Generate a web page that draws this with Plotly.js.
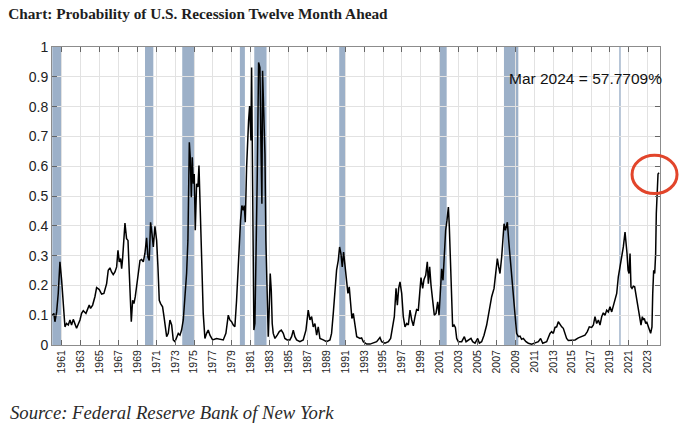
<!DOCTYPE html>
<html>
<head>
<meta charset="utf-8">
<script src="https://cdn.plot.ly/plotly-3.0.1.min.js"></script>
<style>
  html, body { margin: 0; padding: 0; background: #ffffff; }
  #chart { width: 680px; height: 428px; }
</style>
</head>
<body>
<div id="chart"></div>
<script>
// ---- Data ----
const years = [
  1960.00,1960.17,1960.28,1960.46,1960.63,1960.81,1960.99,1961.16,1961.34,1961.51,1961.69,1961.87,
  1962.04,1962.22,1962.40,1962.57,1962.93,1963.10,1963.28,1963.56,1963.70,1963.91,1964.05,1964.27,
  1964.51,1964.69,1964.97,1965.22,1965.46,1965.75,1965.92,1966.10,1966.27,1966.45,1966.63,1966.81,
  1966.95,1967.09,1967.23,1967.34,1967.44,1967.58,1967.69,1967.86,1968.01,1968.15,1968.29,1968.36,
  1968.50,1968.64,1968.78,1968.92,1969.10,1969.28,1969.45,1969.63,1969.80,1969.98,1970.12,1970.26,
  1970.40,1970.55,1970.69,1970.86,1971.04,1971.18,1971.32,1971.46,1971.67,1971.82,1971.96,1972.10,
  1972.27,1972.45,1972.63,1972.80,1972.98,1973.15,1973.33,1973.51,1973.68,1973.86,1974.04,1974.21,
  1974.35,1974.50,1974.60,1974.71,1974.81,1974.92,1975.02,1975.13,1975.27,1975.41,1975.52,1975.62,
  1975.76,1975.83,1975.97,1976.15,1976.33,1976.50,1976.68,1976.96,1977.38,1977.74,1978.09,1978.37,
  1978.62,1978.79,1978.97,1979.15,1979.32,1979.50,1979.61,1979.78,1979.92,1980.06,1980.21,1980.31,
  1980.42,1980.56,1980.66,1980.77,1980.88,1980.95,1981.02,1981.09,1981.16,1981.23,1981.33,1981.44,
  1981.55,1981.69,1981.83,1981.97,1982.07,1982.18,1982.25,1982.36,1982.50,1982.60,1982.75,1982.85,
  1982.96,1983.06,1983.17,1983.27,1983.38,1983.56,1983.80,1984.02,1984.23,1984.44,1984.61,1984.86,
  1985.14,1985.32,1985.50,1985.67,1985.85,1986.20,1986.55,1986.84,1987.08,1987.26,1987.44,1987.61,
  1987.79,1987.97,1988.14,1988.32,1988.67,1989.02,1989.38,1989.55,1989.73,1989.91,1990.08,1990.26,
  1990.40,1990.54,1990.68,1990.82,1990.96,1991.14,1991.28,1991.42,1991.56,1991.70,1991.85,1992.03,
  1992.21,1992.56,1992.73,1992.91,1993.26,1993.62,1993.97,1994.32,1994.67,1994.85,1995.20,1995.56,
  1995.80,1996.01,1996.19,1996.37,1996.51,1996.65,1996.79,1996.97,1997.14,1997.32,1997.50,1997.67,
  1997.85,1998.03,1998.20,1998.38,1998.55,1998.73,1998.91,1999.01,1999.19,1999.33,1999.51,1999.68,
  1999.79,1999.93,2000.07,2000.25,2000.42,2000.60,2000.78,2000.92,2001.09,2001.20,2001.34,2001.48,
  2001.62,2001.76,2001.91,2002.01,2002.15,2002.26,2002.36,2002.51,2002.65,2002.79,2002.96,2003.32,
  2003.60,2003.78,2004.02,2004.30,2004.48,2004.73,2005.01,2005.19,2005.43,2005.68,2005.96,2006.24,
  2006.49,2006.74,2006.95,2007.09,2007.23,2007.37,2007.55,2007.66,2007.80,2007.94,2008.08,2008.15,
  2008.29,2008.43,2008.57,2008.71,2008.85,2008.99,2009.13,2009.31,2009.49,2009.66,2009.84,2010.12,
  2010.37,2010.72,2011.07,2011.43,2011.67,2011.89,2012.31,2012.66,2012.84,2013.01,2013.19,2013.37,
  2013.54,2013.72,2013.90,2014.07,2014.25,2014.42,2014.60,2014.95,2015.31,2015.66,2016.01,2016.36,
  2016.61,2016.82,2017.07,2017.25,2017.42,2017.60,2017.78,2017.95,2018.13,2018.30,2018.48,2018.66,
  2018.83,2019.01,2019.19,2019.36,2019.54,2019.72,2019.89,2020.07,2020.24,2020.42,2020.60,2020.70,
  2020.81,2020.92,2021.02,2021.13,2021.23,2021.34,2021.48,2021.62,2021.76,2021.90,2022.04,2022.18,
  2022.29,2022.43,2022.54,2022.64,2022.79,2022.89,2023.03,2023.17,2023.31,2023.45,2023.53,2023.63,
  2023.74,2023.84,2023.91,2023.98,2024.09,2024.20
];
const probs = [
  0.100,0.106,0.078,0.111,0.173,0.279,0.217,0.128,0.061,0.072,0.067,0.084,
  0.067,0.086,0.067,0.056,0.084,0.106,0.115,0.106,0.117,0.134,0.123,0.134,
  0.162,0.193,0.186,0.171,0.173,0.206,0.251,0.259,0.245,0.236,0.245,0.262,
  0.318,0.279,0.290,0.256,0.290,0.379,0.409,0.357,0.351,0.240,0.128,0.078,
  0.150,0.139,0.162,0.206,0.240,0.284,0.287,0.279,0.307,0.360,0.295,0.284,
  0.412,0.373,0.329,0.398,0.351,0.262,0.150,0.139,0.128,0.095,0.061,0.028,
  0.039,0.084,0.067,0.017,0.011,0.028,0.039,0.033,0.050,0.084,0.150,0.240,
  0.351,0.680,0.630,0.496,0.630,0.541,0.574,0.385,0.541,0.530,0.602,0.463,
  0.307,0.262,0.106,0.022,0.039,0.050,0.033,0.017,0.022,0.020,0.017,0.039,
  0.100,0.084,0.078,0.067,0.061,0.150,0.234,0.351,0.418,0.468,0.452,0.468,
  0.412,0.596,0.697,0.753,0.802,0.730,0.686,0.931,0.574,0.184,0.050,0.072,
  0.240,0.574,0.948,0.931,0.686,0.474,0.920,0.797,0.641,0.351,0.072,0.028,
  0.128,0.240,0.184,0.072,0.039,0.022,0.033,0.045,0.050,0.039,0.022,0.017,
  0.017,0.028,0.050,0.028,0.017,0.011,0.017,0.050,0.117,0.084,0.095,0.061,
  0.072,0.033,0.061,0.022,0.017,0.011,0.017,0.039,0.106,0.184,0.251,0.284,
  0.329,0.307,0.262,0.312,0.273,0.201,0.173,0.195,0.128,0.089,0.106,0.056,
  0.028,0.022,0.024,0.011,0.003,0.003,0.006,0.011,0.025,0.011,0.006,0.011,
  0.022,0.061,0.095,0.190,0.134,0.190,0.212,0.173,0.095,0.061,0.072,0.067,
  0.117,0.084,0.064,0.095,0.119,0.117,0.184,0.226,0.190,0.220,0.234,0.279,
  0.206,0.262,0.201,0.150,0.100,0.106,0.145,0.100,0.195,0.256,0.217,0.307,
  0.385,0.418,0.463,0.396,0.229,0.106,0.061,0.067,0.059,0.022,0.011,0.011,
  0.028,0.011,0.017,0.022,0.011,0.006,0.022,0.006,0.011,0.033,0.067,0.117,
  0.162,0.190,0.240,0.290,0.262,0.240,0.296,0.346,0.407,0.385,0.412,0.412,
  0.351,0.295,0.240,0.190,0.128,0.078,0.039,0.028,0.030,0.019,0.022,0.011,
  0.006,0.003,0.006,0.011,0.022,0.006,0.011,0.039,0.045,0.039,0.059,0.061,
  0.078,0.067,0.061,0.056,0.039,0.022,0.015,0.015,0.017,0.024,0.028,0.033,
  0.045,0.061,0.059,0.067,0.095,0.072,0.084,0.067,0.095,0.108,0.100,0.117,
  0.111,0.128,0.111,0.134,0.150,0.173,0.229,0.262,0.296,0.329,0.379,0.351,
  0.307,0.251,0.240,0.307,0.195,0.190,0.197,0.195,0.167,0.139,0.111,0.084,
  0.067,0.095,0.084,0.089,0.072,0.078,0.061,0.052,0.039,0.061,0.173,0.251,
  0.240,0.307,0.441,0.530,0.574,0.578
];
// Recession shading periods (start, end) in decimal years
const recessionStart = [1960.00, 1969.81, 1973.75, 1979.85, 1981.37, 1990.36, 2001.02, 2007.79, 2019.99];
const recessionEnd   = [1961.00, 1970.69, 1974.99, 1980.38, 1982.67, 1991.03, 2001.73, 2009.31, 2020.14];
// Tick labels
const tickYears = [];
for (let y = 1961; y <= 2023; y += 2) tickYears.push(y);
const tickLabels = tickYears.map(String);
const latestLabel = "Mar 2024 = 57.7709%";
const titleText = "Chart: Probability of U.S. Recession Twelve Month Ahead";
const sourceText = "Source: Federal Reserve Bank of New York";

// ---- Build chart ----
const shapes = recessionStart.map((s, i) => ({
  type: 'rect', xref: 'x', yref: 'paper', x0: s, x1: recessionEnd[i], y0: 0, y1: 1,
  fillcolor: '#9cb0c8', line: {width: 0}, layer: 'between'
}));
shapes.push({
  type: 'circle', xref: 'paper', yref: 'paper',
  x0: 0.954, x1: 1.028, y0: 0.508, y1: 0.637,
  line: {color: '#e2452b', width: 3}, fillcolor: 'rgba(0,0,0,0)', layer: 'above'
});

const trace = {
  x: years, y: probs, type: 'scatter', mode: 'lines',
  line: {color: '#000000', width: 1.5}, hoverinfo: 'skip', cliponaxis: true
};

const layout = {
  width: 680, height: 428,
  margin: {l: 52, r: 20, t: 47, b: 83},
  paper_bgcolor: '#ffffff', plot_bgcolor: '#ffffff',
  showlegend: false,
  title: {
    text: titleText, x: 0.012, xanchor: 'left', xref: 'container',
    y: 0.968, yanchor: 'middle', yref: 'container',
    font: {family: 'Liberation Serif, serif', size: 15.3, color: '#1e1e1e', weight: 700}
  },
  xaxis: {
    range: [1959.97, 2024.3], tickmode: 'array', tickvals: tickYears, ticktext: tickLabels,
    tickangle: -90, tickfont: {family: 'Liberation Sans, Arial, sans-serif', size: 10.5, color: '#222'},
    showgrid: true, gridcolor: '#e2e2e2', gridwidth: 1, zeroline: false,
    showline: true, linecolor: '#8c8c8c', linewidth: 1, mirror: 'ticks',
    ticks: 'inside', ticklen: 5, tickcolor: '#666', tickwidth: 1
  },
  yaxis: {
    range: [0, 1], dtick: 0.1, tick0: 0,
    tickfont: {family: 'Liberation Sans, Arial, sans-serif', size: 14, color: '#222'},
    showgrid: true, gridcolor: '#e2e2e2', gridwidth: 1, zeroline: false,
    showline: true, linecolor: '#8c8c8c', linewidth: 1, mirror: 'ticks',
    ticks: 'inside', ticklen: 5, tickcolor: '#666', tickwidth: 1
  },
  shapes: shapes,
  annotations: [
    {
      text: latestLabel, xref: 'paper', yref: 'y', x: 0.749, y: 0.893,
      xanchor: 'left', yanchor: 'middle', showarrow: false,
      font: {family: 'Liberation Sans, Arial, sans-serif', size: 15.5, color: '#111'}
    },
    {
      text: sourceText, xref: 'paper', yref: 'paper', x: -0.0724, y: -0.228,
      xanchor: 'left', yanchor: 'middle', showarrow: false,
      font: {family: 'Liberation Serif, serif', size: 18.7, color: '#2a2a2a', style: 'italic'}
    }
  ]
};

Plotly.newPlot('chart', [trace], layout, {staticPlot: true, displayModeBar: false});
</script>
</body>
</html>
